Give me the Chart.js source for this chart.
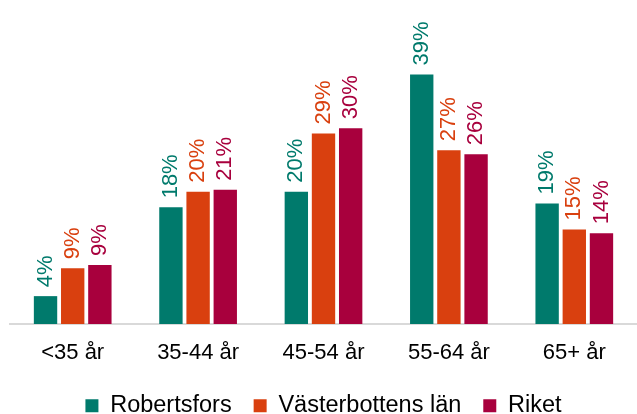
<!DOCTYPE html>
<html>
<head>
<meta charset="utf-8">
<script src="https://cdn.jsdelivr.net/npm/chart.js@4"></script>
<style>
  html, body { margin: 0; padding: 0; background: #fff; }
  #wrap { width: 637px; height: 414px; }
</style>
</head>
<body>
<div id="wrap"><canvas id="ageChart"></canvas></div>
<script>
// Age groups and shares (%) per area
const categories = ['<35 år', '35-44 år', '45-54 år', '55-64 år', '65+ år'];
const robertsfors = [4.3, 18.0, 20.4, 38.5, 18.6];
const vasterbotten = [8.6, 20.4, 29.4, 26.8, 14.6];
const riket = [9.1, 20.7, 30.2, 26.2, 14.0];
const seriesNames = ['Robertsfors', 'Västerbottens län', 'Riket'];
const seriesColors = ['#007A6C', '#D9400F', '#A8003D'];

const FONT = '"Liberation Sans", Arial, sans-serif';

// Draws the rotated percentage labels above each bar
const barLabels = {
    id: 'barLabels',
    afterDatasetsDraw(chart) {
        const ctx = chart.ctx;
        ctx.save();
        ctx.font = '22px ' + FONT;
        ctx.textAlign = 'left';
        ctx.textBaseline = 'middle';
        chart.data.datasets.forEach((ds, i) => {
            const meta = chart.getDatasetMeta(i);
            meta.data.forEach((bar, j) => {
                ctx.save();
                ctx.fillStyle = ds.backgroundColor;
                ctx.translate(bar.x, bar.y - 9);
                ctx.rotate(-Math.PI / 2);
                ctx.fillText(Math.round(ds.data[j]) + '%', 0, 0);
                ctx.restore();
            });
        });
        ctx.restore();
    }
};

const data = [robertsfors, vasterbotten, riket];

new Chart(document.getElementById('ageChart').getContext('2d'), {
    type: 'bar',
    data: {
        labels: categories,
        datasets: seriesNames.map((name, i) => ({
            label: name,
            data: data[i],
            backgroundColor: seriesColors[i],
            categoryPercentage: 0.65,
            barPercentage: 0.86
        }))
    },
    options: {
        responsive: true,
        maintainAspectRatio: false,
        animation: false,
        layout: { padding: { left: 10, right: 0, top: 0, bottom: 0 } },
        scales: {
            x: {
                grid: { display: false, drawTicks: false },
                border: { display: true, color: '#D9D9D9', width: 2 },
                ticks: {
                    color: '#000',
                    padding: 16,
                    font: { family: FONT, size: 22 }
                },
                afterFit: scale => { scale.height = 48; }
            },
            y: {
                display: false,
                min: 0,
                max: 50
            }
        },
        plugins: {
            legend: {
                position: 'bottom',
                maxHeight: 42,
                labels: {
                    color: '#000',
                    boxWidth: 13,
                    boxHeight: 13,
                    padding: 22,
                    font: { family: FONT, size: 23.5 }
                }
            },
            tooltip: { enabled: false }
        }
    },
    plugins: [barLabels]
});
</script>
</body>
</html>
